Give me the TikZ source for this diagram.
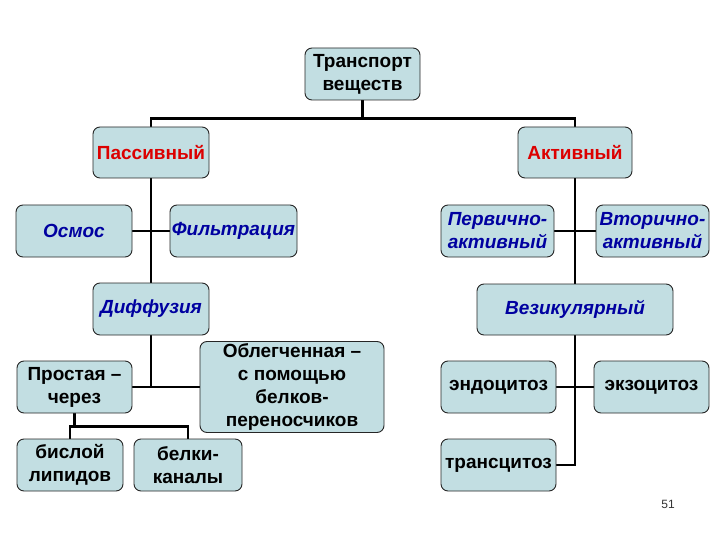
\documentclass[tikz,border=0pt]{standalone}
\usepackage{fontspec}
\setmainfont{Liberation Sans}
\usepackage{xcolor}
\usepackage{tikz}
\usetikzlibrary{
	arrows.meta,
	calc,
	backgrounds,
	positioning
}
\definecolor{BoxFill}{RGB}{194,222,226}
\definecolor{DarkRed}{RGB}{220,0,0}
\definecolor{DarkBlue}{RGB}{0,0,160}

\begin{document}
\begin{tikzpicture}[x=1pt, y=-1pt,
		box/.style={draw=black!85, line width=0.9pt, rounded corners=7pt, fill=BoxFill,
			align=center, inner sep=0pt, font=\fontsize{19}{23}\selectfont\bfseries},
		redtxt/.style={box, text=DarkRed},
		bluetxt/.style={box, text=DarkBlue, font=\fontsize{19}{23}\selectfont\bfseries\itshape},
		link/.style={line width=2.6pt, black}]
		\useasboundingbox (0,0) rectangle (720,540);
		
		\node[box, minimum width=115, minimum height=52] (top) at (362.5,74) {Транспорт\\веществ};
		
		\node[redtxt, minimum width=116, minimum height=51] (pass) at (151,152.5) {Пассивный};
		\node[redtxt, minimum width=114, minimum height=51] (act) at (575,152.5) {Активный};
		
		\node[bluetxt, minimum width=116, minimum height=52] (osmos) at (74,231) {Осмос};
		\node[bluetxt, minimum width=127, minimum height=52] (filtr) at (233.5,231) {Фильтрация};
		\node[bluetxt, minimum width=113, minimum height=52] (perv) at (497.5,231) {Первично-\\активный};
		\node[bluetxt, minimum width=113, minimum height=52] (vtor) at (652.5,231) {Вторично-\\активный};
		
		\node[bluetxt, minimum width=116, minimum height=52] (diff) at (151,309) {Диффузия};
		\node[bluetxt, minimum width=196, minimum height=51] (vez) at (575,309.5) {Везикулярный};
		
		\node[box, minimum width=115, minimum height=52] (prost) at (74.5,387) {Простая --\\через};
		\node[box, minimum width=184, minimum height=91] (obleg) at (292,387) {Облегченная --\\с помощью\\белков-\\переносчиков};
		\node[box, minimum width=115, minimum height=52] (endo) at (498.5,387) {эндоцитоз};
		\node[box, minimum width=115, minimum height=52] (exo) at (651.5,387) {экзоцитоз};
		
		\node[box, minimum width=106, minimum height=52] (bisl) at (70,465) {бислой\\липидов};
		\node[box, minimum width=108, minimum height=52] (kanal) at (188,465) {белки-\\каналы};
		\node[box, minimum width=115, minimum height=52] (trans) at (498.5,465) {трансцитоз};
		
		\node[font=\fontsize{12}{14}\selectfont, text=black!80] (page) at (668,504) {51};
		
		\coordinate (J1) at ($(top.south)+(0,18)$); % branch under the top box
		\coordinate (J2) at ($(prost.south)+(0,13)$); % branch under Простая
		
		\begin{scope}[on background layer]
			\draw[link] (top.south) -- (J1);
			\draw[link] (pass.north) |- (J1) -| (act.north);
			\draw[link] (pass.south) -- (diff.north);
			\draw[link] (osmos.east) -- (filtr.west);
			\draw[link] (act.south) -- (vez.north);
			\draw[link] (perv.east) -- (vtor.west);
			\draw[link] (diff.south) |- (prost.east);
			\draw[link] (prost.east) -- (obleg.west);
			\draw[link] (prost.south) -- (J2);
			\draw[link] (bisl.north) |- (J2) -| (kanal.north);
			\draw[link] (vez.south) |- (trans.east);
			\draw[link] (endo.east) -- (exo.west);
		\end{scope}
	\end{tikzpicture}
\end{document}
